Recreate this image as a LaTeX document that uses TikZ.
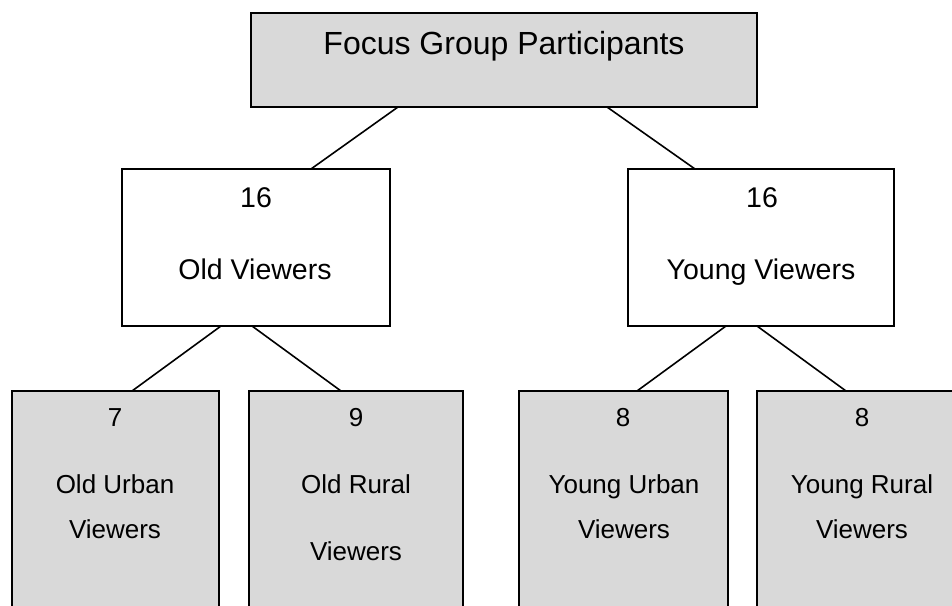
\documentclass[tikz,border=0pt]{standalone}
\usepackage{fontspec}
\setmainfont{Liberation Sans}
\definecolor{boxgray}{HTML}{D9D9D9}
\tikzset{
  box/.style={draw=black, line width=1.6pt, inner sep=0pt, outer sep=0pt, anchor=north west},
  graybox/.style={box, fill=boxgray},
  whitebox/.style={box, fill=white},
  link/.style={draw=black, line width=1.6pt},
  txttop/.style={anchor=base, inner sep=0pt, font=\fontsize{32}{38}\selectfont},
  txtmid/.style={anchor=base, inner sep=0pt, font=\fontsize{28.5}{34}\selectfont},
  txtbot/.style={anchor=base, inner sep=0pt, font=\fontsize{26}{31}\selectfont}
}
\begin{document}
\begin{tikzpicture}[x=1pt, y=-1pt]
\useasboundingbox (0,0) rectangle (952,605);
\clip (0,0) rectangle (952,605);
\fill[white] (0,0) rectangle (952,605);
% boxes
\node[graybox, minimum width=506pt, minimum height=94pt] (top) at (251,13) {};
\node[whitebox, minimum width=268pt, minimum height=157pt] (old) at (122,169) {};
\node[whitebox, minimum width=266pt, minimum height=157pt] (young) at (628,169) {};
\node[graybox, minimum width=207pt, minimum height=240pt] (b1) at (12,391) {};
\node[graybox, minimum width=214pt, minimum height=240pt] (b2) at (249,391) {};
\node[graybox, minimum width=209pt, minimum height=240pt] (b3) at (519,391) {};
\node[graybox, minimum width=210pt, minimum height=240pt] (b4) at (757,391) {};
% connectors
\draw[link] ([xshift=147pt]top.south west) -- ([xshift=189pt]old.north west);
\draw[link] ([xshift=356pt]top.south west) -- ([xshift=67pt]young.north west);
\draw[link] ([xshift=99pt]old.south west) -- ([xshift=120pt]b1.north west);
\draw[link] ([xshift=130pt]old.south west) -- ([xshift=92pt]b2.north west);
\draw[link] ([xshift=98pt]young.south west) -- ([xshift=118pt]b3.north west);
\draw[link] ([xshift=129pt]young.south west) -- ([xshift=89pt]b4.north west);
% texts
\node[txttop] (ttop) at (504,54) {Focus Group Participants};
\node[txtmid] (told1) at (256,207) {16};
\node[txtmid] (told2) at (255,279) {Old Viewers};
\node[txtmid] (tyoung1) at (762,207) {16};
\node[txtmid] (tyoung2) at (761,279) {Young Viewers};
\node[txtbot] (tb1a) at (115,426) {7};
\node[txtbot] (tb1b) at (115,493) {Old Urban};
\node[txtbot] (tb1c) at (115,538) {Viewers};
\node[txtbot] (tb2a) at (356,426) {9};
\node[txtbot] (tb2b) at (356,493) {Old Rural};
\node[txtbot] (tb2c) at (356,560) {Viewers};
\node[txtbot] (tb3a) at (623,426) {8};
\node[txtbot] (tb3b) at (624,493) {Young Urban};
\node[txtbot] (tb3c) at (624,538) {Viewers};
\node[txtbot] (tb4a) at (862,426) {8};
\node[txtbot] (tb4b) at (862,493) {Young Rural};
\node[txtbot] (tb4c) at (862,538) {Viewers};
\end{tikzpicture}
\end{document}
